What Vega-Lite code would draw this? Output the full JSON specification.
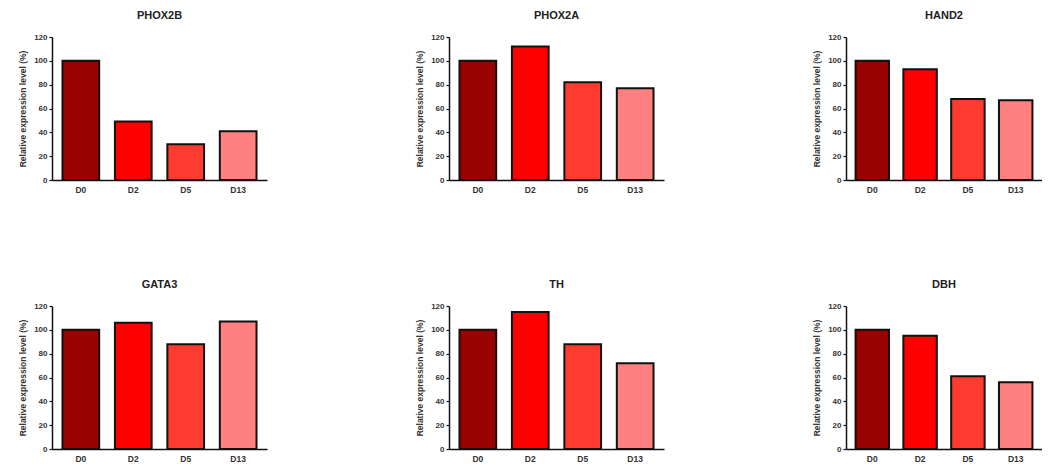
{
  "$schema": "https://vega.github.io/schema/vega-lite/v6.json",
  "padding": {"left": 18, "top": 10, "right": 0, "bottom": 0},
  "background": "white",
  "spacing": 85,
  "datasets": {
    "expr": [
      {"gene": "PHOX2B", "day": "D0", "value": 100},
      {"gene": "PHOX2B", "day": "D2", "value": 49},
      {"gene": "PHOX2B", "day": "D5", "value": 30},
      {"gene": "PHOX2B", "day": "D13", "value": 41},
      {"gene": "PHOX2A", "day": "D0", "value": 100},
      {"gene": "PHOX2A", "day": "D2", "value": 112},
      {"gene": "PHOX2A", "day": "D5", "value": 82},
      {"gene": "PHOX2A", "day": "D13", "value": 77},
      {"gene": "HAND2", "day": "D0", "value": 100},
      {"gene": "HAND2", "day": "D2", "value": 93},
      {"gene": "HAND2", "day": "D5", "value": 68},
      {"gene": "HAND2", "day": "D13", "value": 67},
      {"gene": "GATA3", "day": "D0", "value": 100},
      {"gene": "GATA3", "day": "D2", "value": 106},
      {"gene": "GATA3", "day": "D5", "value": 88},
      {"gene": "GATA3", "day": "D13", "value": 107},
      {"gene": "TH", "day": "D0", "value": 100},
      {"gene": "TH", "day": "D2", "value": 115},
      {"gene": "TH", "day": "D5", "value": 88},
      {"gene": "TH", "day": "D13", "value": 72},
      {"gene": "DBH", "day": "D0", "value": 100},
      {"gene": "DBH", "day": "D2", "value": 95},
      {"gene": "DBH", "day": "D5", "value": 61},
      {"gene": "DBH", "day": "D13", "value": 56}
    ]
  },
  "config": {
    "view": {"stroke": null},
    "font": "Liberation Sans",
    "title": {"fontSize": 11, "fontWeight": "bold", "color": "#222", "anchor": "middle", "offset": 12},
    "axis": {
      "domainColor": "#111",
      "domainWidth": 1.5,
      "tickColor": "#111",
      "tickWidth": 1.2,
      "labelFontSize": 8,
      "labelFontWeight": "bold",
      "labelColor": "#333",
      "grid": false
    },
    "axisX": {"ticks": false, "labelPadding": 5, "labelFontSize": 8.5},
    "axisY": {"tickSize": 3, "labelPadding": 2}
  },
  "vconcat": [
    {
      "spacing": 148,
      "hconcat": [
        {
          "title": "PHOX2B",
          "width": 215, "height": 143,
          "data": {"name": "expr"},
          "transform": [{"filter": "datum.gene === 'PHOX2B'"}],
          "mark": {"type": "bar", "stroke": "#111", "strokeWidth": 2},
          "encoding": {
            "x": {"field": "day", "type": "nominal", "sort": ["D0", "D2", "D5", "D13"], "scale": {"paddingInner": 0.3, "paddingOuter": 0.2}, "axis": {"title": null, "labelAngle": 0}},
            "y": {"field": "value", "type": "quantitative", "scale": {"domain": [0, 120]}, "axis": {"values": [0, 20, 40, 60, 80, 100, 120], "title": "Relative expression level (%)", "titleFontSize": 8.5, "titleFontWeight": "bold", "titleColor": "#333", "titlePadding": 6}},
            "color": {"field": "day", "type": "nominal", "scale": {"domain": ["D0", "D2", "D5", "D13"], "range": ["#990000", "#ff0000", "#ff3b30", "#ff8080"]}, "legend": null}
          }
        },
        {
          "title": "PHOX2A",
          "width": 215, "height": 143,
          "data": {"name": "expr"},
          "transform": [{"filter": "datum.gene === 'PHOX2A'"}],
          "mark": {"type": "bar", "stroke": "#111", "strokeWidth": 2},
          "encoding": {
            "x": {"field": "day", "type": "nominal", "sort": ["D0", "D2", "D5", "D13"], "scale": {"paddingInner": 0.3, "paddingOuter": 0.2}, "axis": {"title": null, "labelAngle": 0}},
            "y": {"field": "value", "type": "quantitative", "scale": {"domain": [0, 120]}, "axis": {"values": [0, 20, 40, 60, 80, 100, 120], "title": "Relative expression level (%)", "titleFontSize": 8.5, "titleFontWeight": "bold", "titleColor": "#333", "titlePadding": 6}},
            "color": {"field": "day", "type": "nominal", "scale": {"domain": ["D0", "D2", "D5", "D13"], "range": ["#990000", "#ff0000", "#ff3b30", "#ff8080"]}, "legend": null}
          }
        },
        {
          "title": "HAND2",
          "width": 196, "height": 143,
          "data": {"name": "expr"},
          "transform": [{"filter": "datum.gene === 'HAND2'"}],
          "mark": {"type": "bar", "stroke": "#111", "strokeWidth": 2},
          "encoding": {
            "x": {"field": "day", "type": "nominal", "sort": ["D0", "D2", "D5", "D13"], "scale": {"paddingInner": 0.3, "paddingOuter": 0.2}, "axis": {"title": null, "labelAngle": 0}},
            "y": {"field": "value", "type": "quantitative", "scale": {"domain": [0, 120]}, "axis": {"values": [0, 20, 40, 60, 80, 100, 120], "title": "Relative expression level (%)", "titleFontSize": 8.5, "titleFontWeight": "bold", "titleColor": "#333", "titlePadding": 6}},
            "color": {"field": "day", "type": "nominal", "scale": {"domain": ["D0", "D2", "D5", "D13"], "range": ["#990000", "#ff0000", "#ff3b30", "#ff8080"]}, "legend": null}
          }
        }
      ]
    },
    {
      "spacing": 148,
      "hconcat": [
        {
          "title": "GATA3",
          "width": 215, "height": 143,
          "data": {"name": "expr"},
          "transform": [{"filter": "datum.gene === 'GATA3'"}],
          "mark": {"type": "bar", "stroke": "#111", "strokeWidth": 2},
          "encoding": {
            "x": {"field": "day", "type": "nominal", "sort": ["D0", "D2", "D5", "D13"], "scale": {"paddingInner": 0.3, "paddingOuter": 0.2}, "axis": {"title": null, "labelAngle": 0}},
            "y": {"field": "value", "type": "quantitative", "scale": {"domain": [0, 120]}, "axis": {"values": [0, 20, 40, 60, 80, 100, 120], "title": "Relative expression level (%)", "titleFontSize": 8.5, "titleFontWeight": "bold", "titleColor": "#333", "titlePadding": 6}},
            "color": {"field": "day", "type": "nominal", "scale": {"domain": ["D0", "D2", "D5", "D13"], "range": ["#990000", "#ff0000", "#ff3b30", "#ff8080"]}, "legend": null}
          }
        },
        {
          "title": "TH",
          "width": 215, "height": 143,
          "data": {"name": "expr"},
          "transform": [{"filter": "datum.gene === 'TH'"}],
          "mark": {"type": "bar", "stroke": "#111", "strokeWidth": 2},
          "encoding": {
            "x": {"field": "day", "type": "nominal", "sort": ["D0", "D2", "D5", "D13"], "scale": {"paddingInner": 0.3, "paddingOuter": 0.2}, "axis": {"title": null, "labelAngle": 0}},
            "y": {"field": "value", "type": "quantitative", "scale": {"domain": [0, 120]}, "axis": {"values": [0, 20, 40, 60, 80, 100, 120], "title": "Relative expression level (%)", "titleFontSize": 8.5, "titleFontWeight": "bold", "titleColor": "#333", "titlePadding": 6}},
            "color": {"field": "day", "type": "nominal", "scale": {"domain": ["D0", "D2", "D5", "D13"], "range": ["#990000", "#ff0000", "#ff3b30", "#ff8080"]}, "legend": null}
          }
        },
        {
          "title": "DBH",
          "width": 196, "height": 143,
          "data": {"name": "expr"},
          "transform": [{"filter": "datum.gene === 'DBH'"}],
          "mark": {"type": "bar", "stroke": "#111", "strokeWidth": 2},
          "encoding": {
            "x": {"field": "day", "type": "nominal", "sort": ["D0", "D2", "D5", "D13"], "scale": {"paddingInner": 0.3, "paddingOuter": 0.2}, "axis": {"title": null, "labelAngle": 0}},
            "y": {"field": "value", "type": "quantitative", "scale": {"domain": [0, 120]}, "axis": {"values": [0, 20, 40, 60, 80, 100, 120], "title": "Relative expression level (%)", "titleFontSize": 8.5, "titleFontWeight": "bold", "titleColor": "#333", "titlePadding": 6}},
            "color": {"field": "day", "type": "nominal", "scale": {"domain": ["D0", "D2", "D5", "D13"], "range": ["#990000", "#ff0000", "#ff3b30", "#ff8080"]}, "legend": null}
          }
        }
      ]
    }
  ]
}
